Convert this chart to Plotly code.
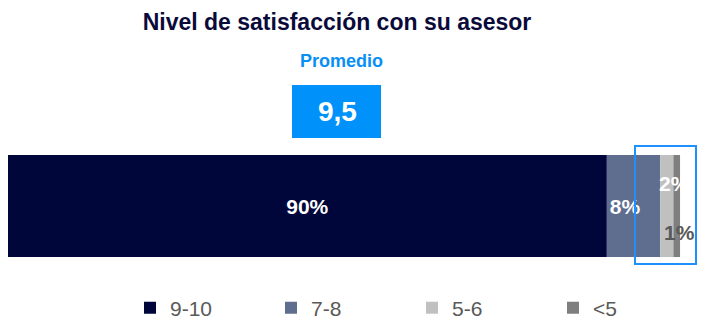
import plotly.graph_objects as go

categories = ["9-10", "7-8", "5-6", "<5"]
values = [90, 8, 2, 1]
colors = ["#00053A", "#5F6E8F", "#C0C0C0", "#7F7F7F"]
title_text = "Nivel de satisfacción con su asesor"
avg_label = "Promedio"
avg_value = "9,5"

W, H = 705, 333
TOP, BOT = 155, 257
FONT = "Arial, Liberation Sans, sans-serif"


def py(p):
    return (BOT - p) / (BOT - TOP)


def px(p):
    return (p - 8) / (W - 8 - 5)


fig = go.Figure()
cum = 0
starts = []
for i, (c, v, col) in enumerate(zip(categories, values, colors)):
    starts.append(cum)
    show_text = i < 2
    fig.add_trace(go.Bar(
        x=[v], y=[0], base=[cum], orientation="h", name=c,
        marker=dict(color=col, line=dict(width=0)),
        width=1,
        text=[f"{v}%"] if show_text else None,
        textposition="inside" if show_text else "none",
        insidetextanchor="middle" if i == 0 else "start",
        textfont=dict(color="white", size=21, family=FONT),
        texttemplate="<b>%{text}</b>" if show_text else None,
        hoverinfo="skip",
    ))
    cum += v

# small-segment labels
fig.add_annotation(x=starts[2], y=py(183), xref="x", yref="paper",
                   text=f"<b>{values[2]}%</b>", showarrow=False, xanchor="left",
                   yanchor="middle", xshift=-3,
                   font=dict(color="white", size=21, family=FONT))
fig.add_annotation(x=starts[3], y=py(232), xref="x", yref="paper",
                   text=f"<b>{values[3]}%</b>", showarrow=False, xanchor="left",
                   yanchor="middle", xshift=-11,
                   font=dict(color="#595959", size=21, family=FONT))

# Promedio
fig.add_annotation(x=px(341), y=py(61), xref="paper", yref="paper",
                   text=f"<b>{avg_label}</b>", showarrow=False,
                   xanchor="center", yanchor="middle",
                   font=dict(color="#0A8FF5", size=18, family=FONT))
fig.add_shape(type="rect", xref="paper", yref="paper",
              x0=px(292), x1=px(381), y0=py(138), y1=py(85),
              fillcolor="#0091FA", line=dict(width=0))
fig.add_annotation(x=px(337), y=py(111), xref="paper", yref="paper",
                   text=f"<b>{avg_value}</b>", showarrow=False,
                   xanchor="center", yanchor="middle",
                   font=dict(color="white", size=28, family=FONT))

# highlight box
fig.add_shape(type="rect", xref="paper", yref="paper",
              x0=px(635), x1=px(696), y0=py(264), y1=py(146),
              fillcolor="rgba(0,0,0,0)", line=dict(color="#1E90FF", width=2))

fig.update_layout(
    width=W, height=H,
    margin=dict(l=8, r=5, t=TOP, b=H - BOT),
    paper_bgcolor="white", plot_bgcolor="white",
    barmode="overlay",
    title=dict(text=f"<b>{title_text}</b>", x=337 / W, xanchor="center",
               y=1 - 22 / H, yanchor="middle",
               font=dict(color="#0A0A3A", size=23, family=FONT)),
    xaxis=dict(range=[0, 104], visible=False, fixedrange=True),
    yaxis=dict(range=[-0.5, 0.5], visible=False, fixedrange=True),
    showlegend=True,
    legend=dict(orientation="h", x=px(130), xanchor="left",
                y=py(308), yanchor="middle",
                entrywidth=96, entrywidthmode="pixels",
                font=dict(color="#595959", size=21, family=FONT),
                traceorder="normal", bgcolor="rgba(0,0,0,0)"),
)

fig.write_html("out.html")
